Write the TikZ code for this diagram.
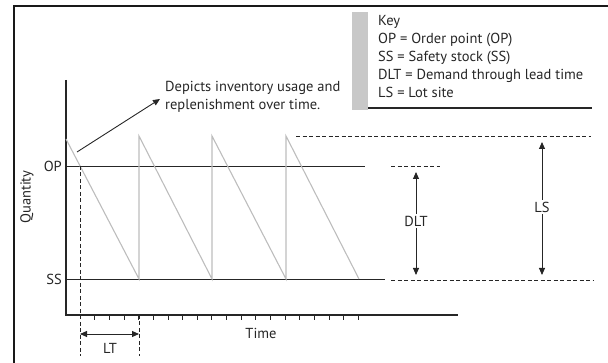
\documentclass[tikz,border=0pt]{standalone}
\usepackage{fontspec}
\setmainfont{PT Sans}
\usetikzlibrary{arrows.meta}
\definecolor{ink}{HTML}{262626}
\definecolor{saw}{HTML}{BDBDBD}
\definecolor{keybar}{HTML}{C8C8C8}
\tikzset{
  lbl/.style={font=\fontsize{14.5}{17}\selectfont, text=ink, inner sep=0pt},
  level/.style={draw=ink, line width=0.9pt},
  guide/.style={draw=ink, line width=0.8pt, dash pattern=on 4pt off 2.5pt},
  sawline/.style={draw=saw, line width=1.1pt, line join=miter},
  dim/.style={draw=ink, line width=0.9pt, {Triangle[length=7pt,width=6pt]}-{Triangle[length=7pt,width=6pt]}},
}
\begin{document}
\begin{tikzpicture}[x=1pt, y=-1pt]
\useasboundingbox (0,0) rectangle (608,363);
% outer frame (only top and left edges fall inside the view)
\draw[line width=2.2pt, draw=black!90] (14,363) -- (14,6) -- (608,6);

% key box
\fill[keybar] (352,12) rectangle (368,110);
\draw[ink, line width=1.3pt] (368,108) -- (592,108);
\node[lbl, anchor=base west] (key)  at (378,26) {Key};
\node[lbl, anchor=base west] (kop)  at (378,44) {OP = Order point (OP)};
\node[lbl, anchor=base west] (kss)  at (378,62) {SS = Safety stock (SS)};
\node[lbl, anchor=base west] (kdlt) at (378,80) {DLT = Demand through lead time};
\node[lbl, anchor=base west] (kls)  at (378,98) {LS = Lot site};

% axes
\coordinate (ytop) at (66,80);
\coordinate (orig) at (66,315);
\coordinate (xend) at (458,315);
\draw[ink, line width=1.1pt] (ytop) -- (orig) -- (xend);

% ticks along the time axis
\foreach \i in {1,...,19} {
  \draw[ink, line width=0.8pt] ({80+\i*14.65},315) -- ({80+\i*14.65},320);
}

% order point and safety stock levels
\draw[level] (66,166) -- (365,166);
\draw[level] (66,279) -- (385,279);
\node[lbl, anchor=east] (op) at (62,166) {OP};
\node[lbl, anchor=east] (ss) at (62,279) {SS};
\node[lbl, rotate=90] (qty) at (27,197) {Quantity};

% inventory saw-tooth
\draw[sawline] (66,139) -- (139,279) -- (139,136) -- (212,279) -- (212,136)
  -- (286,279) -- (286,136) -- (359,279);

% lead-time guides
\draw[guide] (80,166) -- (80,356);
\draw[guide] (139,315) -- (139,356);
\coordinate (lta) at (80,334);
\coordinate (ltb) at (139,334);
\draw[dim] (lta) -- (ltb);
\node[lbl] (lt) at (110,348) {LT};
\node[lbl] (time) at (261,333) {Time};

% annotation
\node[lbl, anchor=base west, align=left] (note1) at (165,92) {Depicts inventory usage and};
\node[lbl, anchor=base west, align=left] (note2) at (165,110) {replenishment over time.};
\coordinate (notefoot) at (77,152);
\draw[ink, line width=0.9pt, -{Triangle[length=7pt,width=6pt]}] (notefoot) -- (160,99);

% dimension guides on the right
\draw[guide] (296,136) -- (591,136);
\draw[guide] (391,166) -- (440,166);
\draw[guide] (391,280) -- (594,280);

\draw[dim] (416,172) -- (416,275);
\draw[dim] (542,142) -- (542,275);
\node[lbl, fill=white, inner sep=2pt] (dlt) at (416,221) {DLT};
\node[lbl, fill=white, inner sep=2pt] (ls) at (542,207) {LS};
\end{tikzpicture}
\end{document}
